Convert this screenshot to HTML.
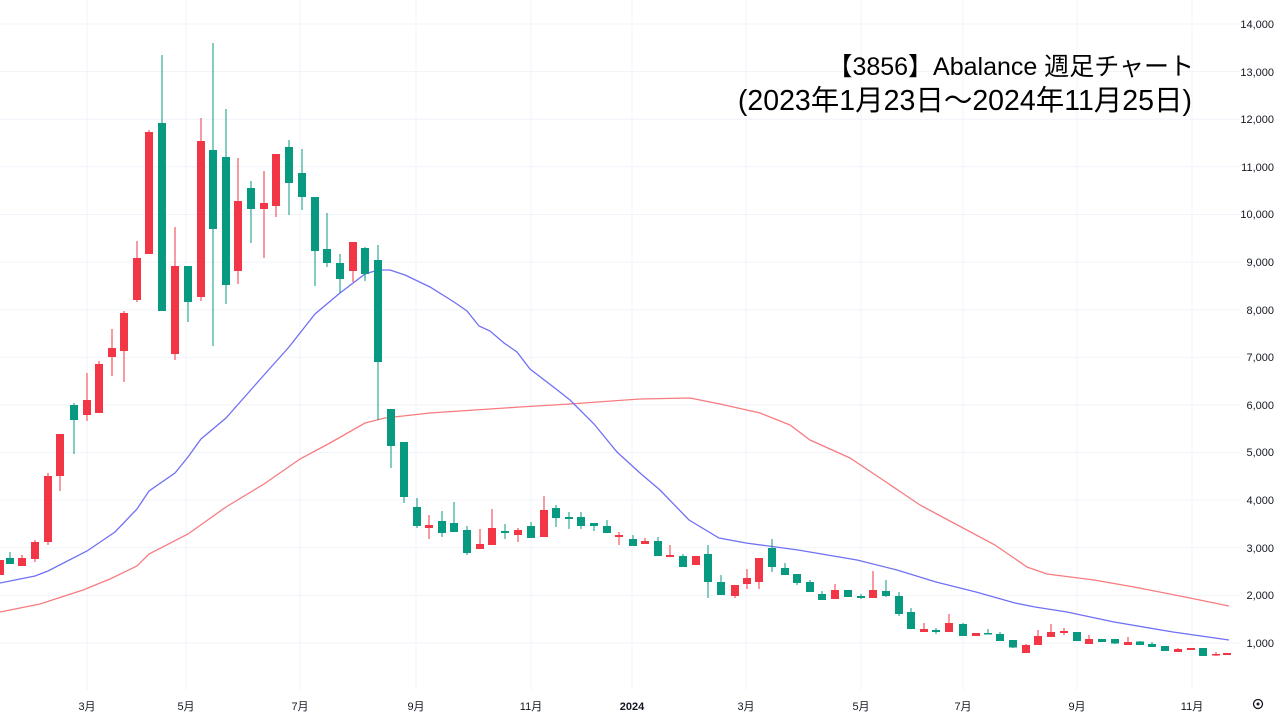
<!DOCTYPE html>
<html><head><meta charset="utf-8"><style>
html,body{margin:0;padding:0;background:#fff;width:1280px;height:720px;overflow:hidden}
svg{display:block}
.ax{font-family:"Liberation Sans","Noto Sans CJK JP",sans-serif;font-size:11px;fill:#131722}
</style></head><body>
<svg width="1280" height="720" viewBox="0 0 1280 720" xmlns="http://www.w3.org/2000/svg">
<g stroke="#f0f3fa" stroke-width="1">
<line x1="0" x2="1240" y1="24" y2="24"/><line x1="0" x2="1240" y1="71.6" y2="71.6"/><line x1="0" x2="1240" y1="119.2" y2="119.2"/><line x1="0" x2="1240" y1="166.8" y2="166.8"/><line x1="0" x2="1240" y1="214.5" y2="214.5"/><line x1="0" x2="1240" y1="262.1" y2="262.1"/><line x1="0" x2="1240" y1="309.7" y2="309.7"/><line x1="0" x2="1240" y1="357.3" y2="357.3"/><line x1="0" x2="1240" y1="404.9" y2="404.9"/><line x1="0" x2="1240" y1="452.5" y2="452.5"/><line x1="0" x2="1240" y1="500.1" y2="500.1"/><line x1="0" x2="1240" y1="547.8" y2="547.8"/><line x1="0" x2="1240" y1="595.4" y2="595.4"/><line x1="0" x2="1240" y1="643" y2="643"/>
<line x1="87" x2="87" y1="0" y2="690"/><line x1="186" x2="186" y1="0" y2="690"/><line x1="300" x2="300" y1="0" y2="690"/><line x1="416" x2="416" y1="0" y2="690"/><line x1="531" x2="531" y1="0" y2="690"/><line x1="632" x2="632" y1="0" y2="690"/><line x1="746" x2="746" y1="0" y2="690"/><line x1="861" x2="861" y1="0" y2="690"/><line x1="963" x2="963" y1="0" y2="690"/><line x1="1077" x2="1077" y1="0" y2="690"/><line x1="1192" x2="1192" y1="0" y2="690"/>
</g>
<polyline fill="none" stroke="#f77c80" stroke-width="1.3" points="0,612 40,604 83,590 110,579 137,566 149,554 188,534 226,507 264,484 300,459 330,443 365,423 385,418 430,413 475,410 520,407 570,404 640,399 690,398 720,404 760,413 790,425 810,440 850,458 880,478 920,505 948,520 995,545 1027,567 1047,574 1094,580 1134,587 1185,597 1229,606"/>
<polyline fill="none" stroke="#7070f5" stroke-width="1.3" points="0,583 35,576 48,571 87,551 115,532 137,509 149,491 175,473 188,457 201,439 226,418 264,375 289,347 315,314 340,293 365,274 378,270 390,270 405,275 430,287 454,302 467,311 479,326 490,331 504,343 517,352 530,369 556,389 570,400 594,424 617,452 640,473 660,490 689,520 719,538 746,543 798,550 857,560 897,570 936,582 976,592 1015,603 1035,607 1067,612 1114,622 1173,632 1229,640"/>
<g stroke="#f23645" stroke-width="1">
<path d="M22 555V566M35 540V562M48 473V545M60 434V491M87 373V421M99 361V413M112 329V376M124 311V382M137 241V302M149 130V254M175 227V360M201 118V301M238 158V284M264 171V258M276 154V217M353 242V282M429 515V539M480 529V549M492 509V545M518 528V542M544 496V537M619 532V545M645 538V544M670 545V557M696 556V565M735 585V598M747 569V589M759 558V589M835 584V599M873 571V598M924 623V632M949 614V632M976 633V636M1026 644V653M1038 630V645M1051 624V637M1064 628V635M1089 635V644M1128 637V645M1178 648V652M1191 648V650M1216 652V656M1227 653V655"/>
</g>
<g stroke="#089981" stroke-width="1">
<path d="M10 552V564M74 403V454M162 55V311M188 266V322M213 43V346M226 109V304M251 181V243M289 140V215M302 149V210M315 197V286M327 213V267M340 254V293M365 247V281M378 245V420M391 409V468M404 442V503M417 498V528M442 511V537M454 502V532M467 526V555M505 524V539M531 522V538M556 505V527M569 512V529M581 512V529M594 523V531M607 520V533M633 535V546M658 537V556M683 554V567M708 545V598M721 575V595M772 539V572M785 563V575M797 574V585M810 580V592M822 591V600M848 590V597M861 594V599M886 580V597M899 592V616M911 608V629M936 628V634M963 623V636M988 629V634M1000 632V641M1013 640V648M1077 632V641M1102 639V642M1115 639V644M1140 641V645M1152 642V647M1165 646V651M1203 648V656"/>
</g>
<g fill="#f23645">
<rect x="-4" y="560" width="8" height="15"/><rect x="18" y="558" width="8" height="8"/><rect x="31" y="542" width="8" height="17"/><rect x="44" y="476" width="8" height="66"/><rect x="56" y="434" width="8" height="42"/><rect x="83" y="400" width="8" height="15"/><rect x="95" y="364" width="8" height="49"/><rect x="108" y="348" width="8" height="9"/><rect x="120" y="313" width="8" height="38"/><rect x="133" y="258" width="8" height="42"/><rect x="145" y="132" width="8" height="122"/><rect x="171" y="266" width="8" height="88"/><rect x="197" y="141" width="8" height="156"/><rect x="234" y="201" width="8" height="70"/><rect x="260" y="203" width="8" height="6"/><rect x="272" y="154" width="8" height="52"/><rect x="349" y="242" width="8" height="29"/><rect x="425" y="525" width="8" height="3"/><rect x="476" y="544" width="8" height="5"/><rect x="488" y="528" width="8" height="17"/><rect x="514" y="530" width="8" height="5"/><rect x="540" y="510" width="8" height="27"/><rect x="615" y="535" width="8" height="2"/><rect x="641" y="541" width="8" height="3"/><rect x="666" y="555" width="8" height="2"/><rect x="692" y="556" width="8" height="9"/><rect x="731" y="585" width="8" height="11"/><rect x="743" y="578" width="8" height="6"/><rect x="755" y="558" width="8" height="24"/><rect x="831" y="590" width="8" height="9"/><rect x="869" y="590" width="8" height="8"/><rect x="920" y="629" width="8" height="3"/><rect x="945" y="623" width="8" height="9"/><rect x="972" y="633" width="8" height="3"/><rect x="1022" y="645" width="8" height="8"/><rect x="1034" y="636" width="8" height="9"/><rect x="1047" y="632" width="8" height="5"/><rect x="1060" y="631" width="8" height="2"/><rect x="1085" y="639" width="8" height="5"/><rect x="1124" y="642" width="8" height="3"/><rect x="1174" y="649" width="8" height="3"/><rect x="1187" y="648" width="8" height="2"/><rect x="1212" y="654" width="8" height="1.5"/><rect x="1223" y="653" width="8" height="2"/>
</g>
<g fill="#089981">
<rect x="6" y="558" width="8" height="6"/><rect x="70" y="405" width="8" height="15"/><rect x="158" y="123" width="8" height="188"/><rect x="184" y="266" width="8" height="36"/><rect x="209" y="150" width="8" height="79"/><rect x="222" y="157" width="8" height="128"/><rect x="247" y="188" width="8" height="21"/><rect x="285" y="147" width="8" height="36"/><rect x="298" y="173" width="8" height="24"/><rect x="311" y="197" width="8" height="54"/><rect x="323" y="249" width="8" height="14"/><rect x="336" y="263" width="8" height="16"/><rect x="361" y="248" width="8" height="26"/><rect x="374" y="260" width="8" height="102"/><rect x="387" y="409" width="8" height="37"/><rect x="400" y="442" width="8" height="55"/><rect x="413" y="507" width="8" height="19"/><rect x="438" y="521" width="8" height="12"/><rect x="450" y="523" width="8" height="9"/><rect x="463" y="530" width="8" height="23"/><rect x="501" y="531" width="8" height="2"/><rect x="527" y="526" width="8" height="12"/><rect x="552" y="508" width="8" height="10"/><rect x="565" y="517" width="8" height="2"/><rect x="577" y="517" width="8" height="9"/><rect x="590" y="523" width="8" height="3"/><rect x="603" y="526" width="8" height="7"/><rect x="629" y="539" width="8" height="7"/><rect x="654" y="541" width="8" height="15"/><rect x="679" y="556" width="8" height="11"/><rect x="704" y="554" width="8" height="28"/><rect x="717" y="582" width="8" height="13"/><rect x="768" y="548" width="8" height="19"/><rect x="781" y="568" width="8" height="7"/><rect x="793" y="574" width="8" height="9"/><rect x="806" y="582" width="8" height="10"/><rect x="818" y="594" width="8" height="6"/><rect x="844" y="590" width="8" height="7"/><rect x="857" y="596" width="8" height="2"/><rect x="882" y="591" width="8" height="5"/><rect x="895" y="596" width="8" height="18"/><rect x="907" y="612" width="8" height="17"/><rect x="932" y="630" width="8" height="2"/><rect x="959" y="624" width="8" height="12"/><rect x="984" y="633" width="8" height="1.5"/><rect x="996" y="634" width="8" height="7"/><rect x="1009" y="640" width="8" height="7.5"/><rect x="1073" y="632" width="8" height="9"/><rect x="1098" y="639" width="8" height="3"/><rect x="1111" y="639" width="8" height="4.5"/><rect x="1136" y="641.5" width="8" height="3.5"/><rect x="1148" y="644" width="8" height="3"/><rect x="1161" y="646" width="8" height="5"/><rect x="1199" y="648" width="8" height="8"/>
</g>
<g class="ax" text-anchor="end">
<text x="1274" y="28">14,000</text><text x="1274" y="76">13,000</text><text x="1274" y="123">12,000</text><text x="1274" y="171">11,000</text><text x="1274" y="218">10,000</text><text x="1274" y="266">9,000</text><text x="1274" y="314">8,000</text><text x="1274" y="361">7,000</text><text x="1274" y="409">6,000</text><text x="1274" y="456">5,000</text><text x="1274" y="504">4,000</text><text x="1274" y="552">3,000</text><text x="1274" y="599">2,000</text><text x="1274" y="647">1,000</text>
</g>
<g class="ax" text-anchor="middle">
<text x="87" y="710">3月</text><text x="186" y="710">5月</text><text x="300" y="710">7月</text><text x="416" y="710">9月</text><text x="531" y="710">11月</text><text x="632" y="710" font-weight="bold">2024</text><text x="746" y="710">3月</text><text x="861" y="710">5月</text><text x="963" y="710">7月</text><text x="1077" y="710">9月</text><text x="1192" y="710">11月</text>
</g>
<circle cx="1258" cy="704" r="4.5" fill="none" stroke="#131722" stroke-width="1.3"/>
<circle cx="1258" cy="704" r="1.5" fill="#131722"/>
<g font-family="'Liberation Sans','Noto Sans CJK JP',sans-serif" fill="#000" text-anchor="end">
<text x="1194" y="75" font-size="25">【3856】Abalance  週足チャート</text>
<text x="1192" y="110" font-size="28.5">(2023年1月23日～2024年11月25日)</text>
</g>
</svg>
</body></html>
